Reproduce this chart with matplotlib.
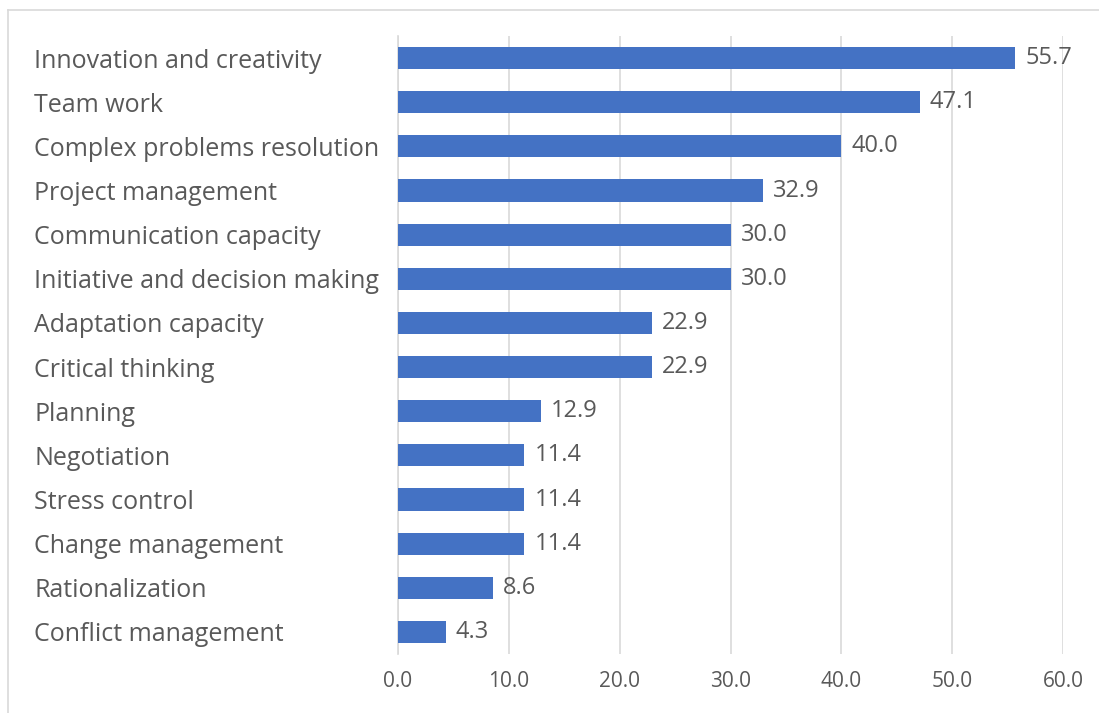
import matplotlib.pyplot as plt
from matplotlib.lines import Line2D

skills = ["Innovation and creativity", "Team work", "Complex problems resolution",
          "Project management", "Communication capacity", "Initiative and decision making",
          "Adaptation capacity", "Critical thinking", "Planning", "Negotiation",
          "Stress control", "Change management", "Rationalization", "Conflict management"]
values = [55.7, 47.1, 40.0, 32.9, 30.0, 30.0, 22.9, 22.9, 12.9, 11.4, 11.4, 11.4, 8.6, 4.3]
xticks = [0, 10, 20, 30, 40, 50, 60]

plt.rcParams['font.family'] = ['Open Sans', 'DejaVu Sans']
text_col = '#595959'

fig = plt.figure(figsize=(10.99, 7.13), dpi=100)
ax = fig.add_axes([398/1099, 59/713, 665/1099, 618/713])

pos = list(range(len(skills)))
bars = ax.barh(pos, values, height=0.5, color='#4472C4', zorder=3)
ax.set_ylim(len(skills) - 0.5, -0.5)
ax.set_xlim(0, 60)

for p, v in zip(pos, values):
    ax.text(v + 0.9, p, f"{v:.1f}", va='center', ha='left', fontsize=17, color=text_col)

ax.set_yticks(pos)
ax.set_yticklabels(skills, fontsize=18, color=text_col, ha='left')
ax.tick_params(axis='y', length=0, pad=262)
ax.set_xticks(xticks)
ax.set_xticklabels([f"{t:.1f}" for t in xticks], fontsize=15, color=text_col)
ax.tick_params(axis='x', length=0, pad=12)

ax.grid(axis='x', color='#d9d9d9', linewidth=1.2, zorder=0)
for s in ['top', 'right', 'bottom']:
    ax.spines[s].set_visible(False)
ax.spines['left'].set_color('#d9d9d9')
ax.spines['left'].set_linewidth(1.2)

# chart frame (top and left edge)
fig.add_artist(Line2D([8/1099, 1], [1 - 10/713, 1 - 10/713], color='#d9d9d9', lw=1.2))
fig.add_artist(Line2D([8/1099, 8/1099], [0, 1 - 10/713], color='#d9d9d9', lw=1.2))

fig.savefig('out.png', dpi=100)
